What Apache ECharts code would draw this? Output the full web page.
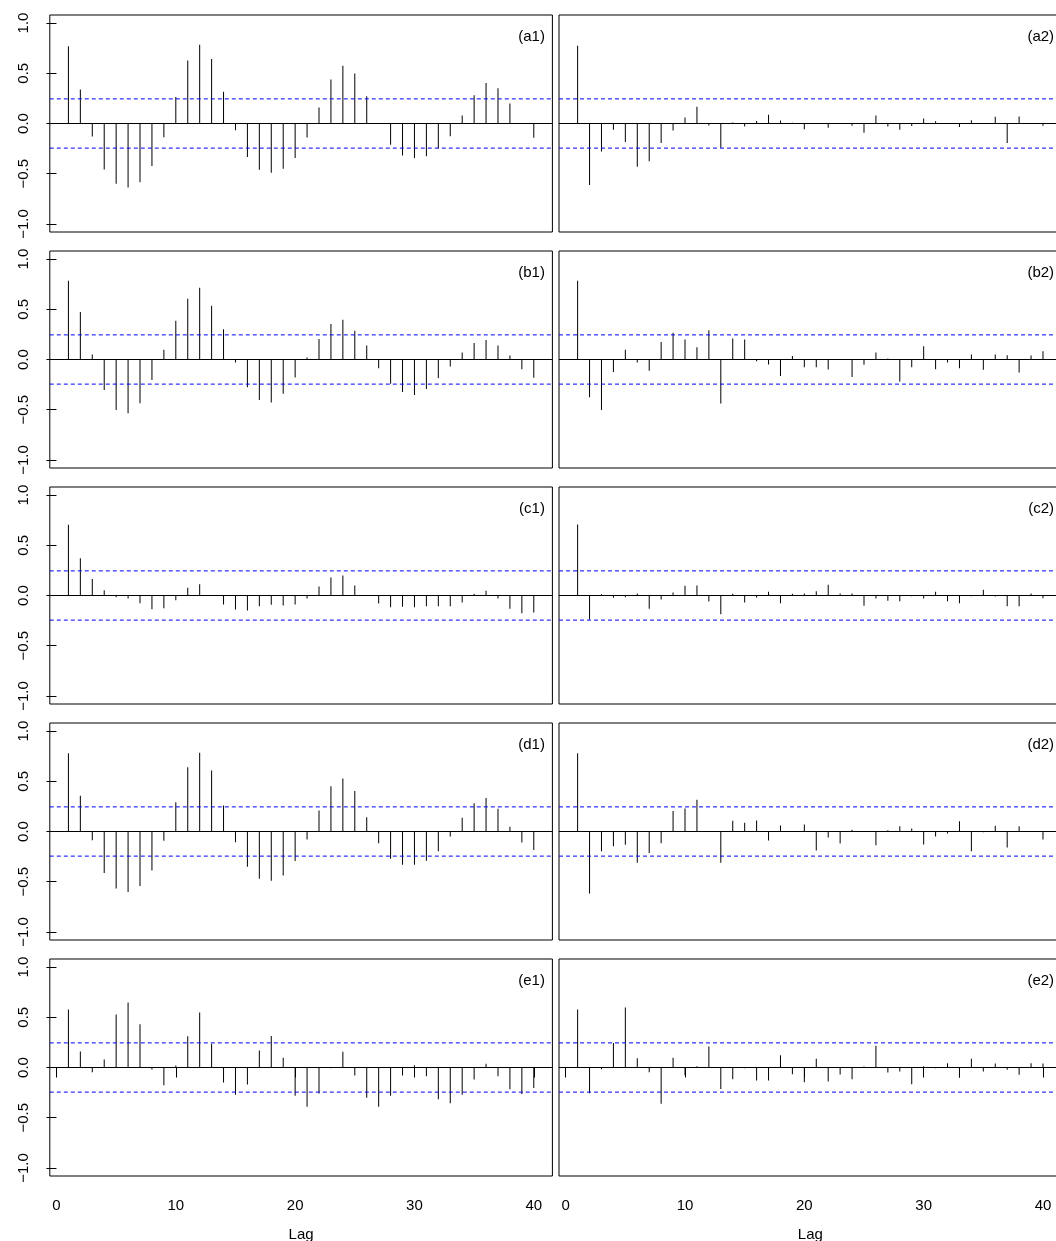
<!DOCTYPE html>
<html>
<head>
<meta charset="utf-8">
<script src="https://cdn.jsdelivr.net/npm/echarts@6/dist/echarts.min.js"></script>
<style>html,body{margin:0;padding:0;background:#fff;overflow:hidden}#main{width:1070px;height:1241px}</style>
</head>
<body>
<div id="main"></div>
<script>
var lags = [1,2,3,4,5,6,7,8,9,10,11,12,13,14,15,16,17,18,19,20,21,22,23,24,25,26,27,28,29,30,31,32,33,34,35,36,37,38,39,40];

// left column: ACF, right column: PACF
var a1 = [0.768,0.338,-0.129,-0.457,-0.599,-0.636,-0.586,-0.424,-0.136,0.265,0.626,0.785,0.642,0.315,-0.066,-0.334,-0.46,-0.49,-0.45,-0.344,-0.139,0.159,0.437,0.576,0.497,0.272,-0.005,-0.212,-0.318,-0.344,-0.325,-0.248,-0.126,0.079,0.281,0.404,0.351,0.199,0.003,-0.142];
var a2 = [0.775,-0.613,-0.278,-0.063,-0.185,-0.43,-0.377,-0.195,-0.07,0.06,0.166,-0.02,-0.242,0.01,-0.03,0.026,0.086,0.03,0.007,-0.056,0.005,-0.043,0.005,-0.023,-0.093,0.079,-0.03,-0.063,-0.026,0.05,0.023,0.003,-0.036,0.033,0.003,0.066,-0.195,0.07,-0.003,-0.023];
var b1 = [0.785,0.472,0.05,-0.304,-0.502,-0.535,-0.436,-0.205,0.096,0.386,0.604,0.713,0.535,0.3,-0.03,-0.277,-0.403,-0.429,-0.34,-0.178,0.02,0.205,0.353,0.396,0.287,0.139,-0.086,-0.241,-0.323,-0.353,-0.294,-0.185,-0.069,0.069,0.165,0.195,0.139,0.04,-0.096,-0.182];
var b2 = [0.785,-0.376,-0.502,-0.125,0.096,-0.03,-0.112,0.175,0.267,0.198,0.122,0.29,-0.439,0.208,0.198,-0.017,-0.05,-0.165,0.036,-0.076,-0.076,-0.099,0.003,-0.175,-0.053,0.069,0.01,-0.218,-0.076,0.132,-0.096,-0.03,-0.086,0.05,-0.102,0.05,0.043,-0.129,0.04,0.083];
var c1 = [0.704,0.372,0.163,0.053,-0.017,-0.03,-0.076,-0.136,-0.126,-0.047,0.076,0.113,-0.003,-0.09,-0.14,-0.15,-0.106,-0.093,-0.1,-0.09,-0.03,0.09,0.179,0.199,0.1,-0.003,-0.08,-0.116,-0.113,-0.116,-0.106,-0.106,-0.106,-0.07,0.017,0.047,-0.03,-0.133,-0.176,-0.169];
var c2 = [0.706,-0.24,0.013,-0.023,-0.017,0.02,-0.133,-0.04,0.03,0.097,0.1,-0.06,-0.187,0.017,-0.07,-0.02,0.037,-0.077,0.017,0.02,0.043,0.107,0.02,0.02,-0.103,-0.03,-0.053,-0.057,-0.007,-0.03,0.037,-0.057,-0.077,-0.007,0.057,-0.01,-0.107,-0.107,0.02,-0.027];
var d1 = [0.78,0.357,-0.087,-0.413,-0.567,-0.603,-0.543,-0.387,-0.093,0.29,0.64,0.783,0.607,0.26,-0.107,-0.35,-0.47,-0.49,-0.437,-0.293,-0.08,0.21,0.45,0.527,0.403,0.143,-0.117,-0.27,-0.33,-0.33,-0.29,-0.197,-0.05,0.137,0.28,0.333,0.227,0.047,-0.11,-0.183];
var d2 = [0.78,-0.617,-0.197,-0.147,-0.133,-0.31,-0.213,-0.117,0.203,0.23,0.317,-0.003,-0.31,0.107,0.087,0.11,-0.09,0.06,-0.003,0.07,-0.19,-0.06,-0.12,0.017,0.005,-0.137,0.013,0.053,0.03,-0.13,-0.05,-0.02,0.103,-0.197,-0.007,0.057,-0.16,0.053,-0.003,-0.08];
var e1 = [0.577,0.16,-0.047,0.08,0.527,0.647,0.43,-0.02,-0.177,0.02,0.31,0.547,0.237,-0.15,-0.27,-0.17,0.17,0.313,0.097,-0.28,-0.39,-0.26,-0.007,0.157,-0.08,-0.3,-0.39,-0.28,-0.08,0.023,-0.087,-0.317,-0.357,-0.27,-0.12,0.037,-0.087,-0.217,-0.263,-0.203];
var e2 = [0.577,-0.257,-0.017,0.243,0.597,0.093,-0.047,-0.36,0.097,-0.077,0.013,0.21,-0.213,-0.117,-0.007,-0.13,-0.13,0.123,-0.067,-0.147,0.087,-0.14,-0.07,-0.117,0.01,0.217,-0.05,-0.04,-0.167,0.013,-0.007,0.043,-0.103,0.087,-0.04,0.04,-0.023,-0.073,0.043,0.04];

var clim = 0.245;
var xRange = [-0.56, 41.56];
var xTicks = [0, 10, 20, 30, 40];
var yTicks = [-1, -0.5, 0, 0.5, 1];
var panelNames = ['(a1)','(a2)','(b1)','(b2)','(c1)','(c2)','(d1)','(d2)','(e1)','(e2)'];
var panelData = [a1, a2, b1, b2, c1, c2, d1, d2, e1, e2];

var font = '"Liberation Sans", Arial, Helvetica, sans-serif';
var colLeft = [49.8, 559];
var W = 502.6, H = 217;

var dom = document.getElementById('main');
var myChart = echarts.init(dom);
var grids = [], xAxes = [], yAxes = [], series = [], texts = [];

function hline(i, y, color, type) {
    return {
        type: 'line', xAxisIndex: i, yAxisIndex: i, symbol: 'none', silent: true,
        lineStyle: {color: color, width: 1, type: type},
        data: [[xRange[0], y], [xRange[1], y]]
    };
}

for (var i = 0; i < panelData.length; i++) {
    var row = Math.floor(i / 2), col = i % 2;
    var last = row === 4;
    var panelTop = 15 + 236 * row;
    grids.push({
        left: colLeft[col], top: panelTop, width: W, height: H,
        outerBoundsMode: 'none',
        show: true, borderColor: '#000', borderWidth: 1, backgroundColor: 'transparent'
    });
    xAxes.push({
        type: 'value', gridIndex: i, min: xRange[0], max: xRange[1],
        splitLine: {show: false},
        axisLine: {show: false},
        axisTick: {show: last, customValues: xTicks, length: 10, lineStyle: {color: '#000'}},
        axisLabel: {show: last, customValues: xTicks, margin: 22, color: '#000', fontSize: 15, fontFamily: font},
        name: last ? 'Lag' : '', nameLocation: 'middle', nameGap: 51,
        nameTextStyle: {color: '#000', fontSize: 15, fontFamily: font}
    });
    yAxes.push({
        type: 'value', gridIndex: i, min: -1.08, max: 1.08,
        splitLine: {show: false},
        axisLine: {show: false},
        axisTick: {show: col === 0, customValues: yTicks, length: 10, lineStyle: {color: '#000'}},
        axisLabel: {
            show: col === 0, customValues: yTicks, rotate: 90, margin: 18,
            color: '#000', fontSize: 15, fontFamily: font,
            formatter: function (v) { return (v < 0 ? '\u2212' : '') + Math.abs(v).toFixed(1); }
        }
    });
    series.push({
        type: 'bar', xAxisIndex: i, yAxisIndex: i, barWidth: 1,
        itemStyle: {color: '#000'},
        data: lags.map(function (l, k) { return [l, panelData[i][k]]; })
    });
    series.push(hline(i, 0, '#000', 'solid'));
    series.push(hline(i, clim, '#0000ff', [4, 3]));
    series.push(hline(i, -clim, '#0000ff', [4, 3]));
    texts.push({
        type: 'text', x: colLeft[col] + W - 7.5, y: panelTop + 22,
        style: {text: panelNames[i], fill: '#000', font: '15px ' + font, align: 'right', verticalAlign: 'middle'}
    });
}

option = {
    animation: false,
    grid: grids,
    xAxis: xAxes,
    yAxis: yAxes,
    series: series,
    graphic: texts
};
myChart.setOption(option);
</script>
</body>
</html>
